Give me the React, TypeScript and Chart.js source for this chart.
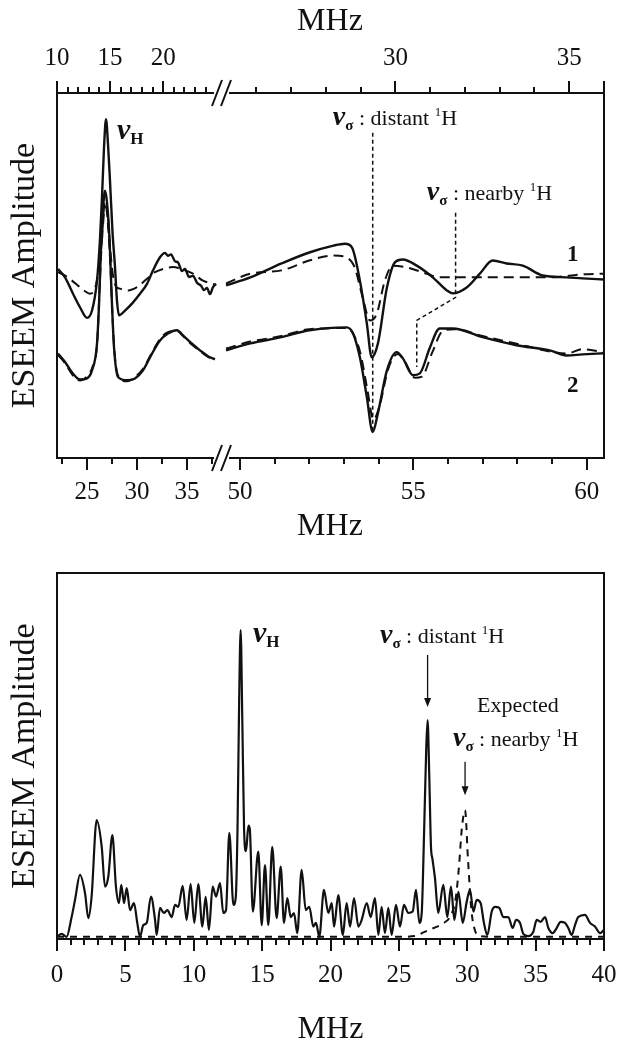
import React, { useEffect, useRef } from 'react';
import { Chart, registerables } from 'chart.js';

Chart.register(...registerables);

const SERIF = '"Liberation Serif", "Times New Roman", Times, serif';
const INK = '#111111';

// ---------- Top panel, left segment (bottom axis 22–38.3 MHz, top axis 10–25.35 MHz) ----------
const L1_SOLID_X = [22.1, 22.8, 23.6, 24.3, 25.0, 25.5, 26.0, 26.3, 26.5, 26.7, 26.9, 27.1, 27.3, 27.55, 27.8, 28.0, 28.2, 28.8, 29.5, 30.3, 31.0, 31.6, 32.3, 32.8, 33.1, 33.4, 33.8, 34.1, 34.5, 34.8, 35.2, 35.6, 36.0, 36.4, 36.7, 37.0, 37.3, 37.6, 37.9];
const L1_SOLID_Y = [51.8, 49.5, 45.0, 41.3, 38.4, 40.4, 48.6, 60.0, 71.4, 85.0, 92.8, 86.0, 75.9, 62.0, 52.3, 43.0, 39.1, 40.4, 42.3, 45.0, 47.7, 51.4, 55.0, 56.2, 55.4, 55.8, 53.9, 53.6, 51.2, 51.8, 49.6, 49.9, 48.0, 47.2, 46.0, 46.6, 44.9, 46.8, 47.7];
const L1_DASH_X = [22.1, 22.8, 23.5, 24.2, 24.7, 25.3, 25.8, 26.2, 26.5, 26.7, 26.9, 27.1, 27.3, 27.6, 27.9, 28.3, 29.1, 30.0, 31.0, 31.8, 32.6, 33.6, 34.6, 35.6, 36.6, 37.6, 37.9];
const L1_DASH_Y = [50.9, 50.0, 48.6, 47.0, 45.9, 45.0, 46.5, 52.0, 60.0, 67.0, 69.0, 66.0, 58.0, 50.0, 47.0, 46.4, 45.9, 46.8, 49.1, 50.9, 51.8, 52.3, 51.6, 50.5, 48.6, 47.7, 47.5];
const L2_SOLID_X = [22.1, 22.8, 23.6, 24.3, 25.0, 25.5, 26.0, 26.2, 26.4, 26.6, 26.8, 27.0, 27.25, 27.5, 27.7, 28.1, 29.0, 29.8, 30.6, 31.5, 32.3, 33.1, 34.0, 34.6, 35.5, 36.3, 37.1, 37.8];
const L2_SOLID_Y = [28.6, 26.3, 23.1, 21.5, 21.8, 24.0, 31.3, 42.0, 57.7, 68.0, 73.2, 70.0, 60.0, 42.0, 30.4, 22.2, 21.3, 21.8, 24.0, 28.6, 32.2, 34.1, 35.0, 33.6, 31.3, 29.5, 27.9, 27.0];
const L2_DASH_X = [22.1, 22.8, 23.6, 24.3, 25.0, 25.5, 26.0, 26.4, 26.8, 27.2, 27.7, 28.1, 29.0, 29.8, 30.6, 31.5, 32.3, 33.1, 34.0, 34.6, 35.5, 36.3, 37.1, 37.8];
const L2_DASH_Y = [28.2, 26.0, 22.6, 21.2, 22.4, 24.6, 31.0, 55.0, 70.0, 60.0, 31.0, 22.6, 21.0, 22.2, 24.4, 28.9, 32.6, 34.5, 34.8, 33.4, 31.0, 29.3, 27.7, 26.8];

// ---------- Top panel, right segment (bottom axis 49.57–60.5 MHz, top axis 25.1–36 MHz) ----------
const R1_SOLID_X = [49.6, 50.3, 51.2, 52.0, 52.7, 53.03, 53.23, 53.46, 53.66, 53.8, 53.98, 54.24, 54.47, 54.7, 55.1, 55.56, 55.97, 56.14, 56.54, 56.92, 57.29, 57.69, 58.16, 58.73, 59.42, 59.88, 60.5];
const R1_SOLID_Y = [47.3, 49.5, 53.3, 56.3, 58.2, 58.7, 57.7, 48.6, 36.9, 27.6, 31.4, 46.7, 53.6, 54.4, 52.7, 49.5, 45.9, 45.1, 46.7, 50.5, 54.1, 53.3, 52.7, 50.0, 49.5, 49.2, 48.9];
const R1_DASH_X = [49.6, 50.3, 51.2, 52.0, 52.7, 53.08, 53.31, 53.54, 53.75, 53.95, 54.18, 54.41, 54.81, 55.39, 55.76, 56.34, 57.0, 57.98, 58.93, 59.88, 60.5];
const R1_DASH_Y = [47.8, 50.5, 51.4, 54.1, 55.5, 54.9, 52.2, 44.0, 37.7, 39.6, 48.6, 52.7, 52.2, 50.5, 49.5, 49.5, 49.5, 49.5, 49.5, 50.3, 50.5];
const R2_SOLID_X = [49.6, 50.3, 51.2, 52.0, 53.08, 53.26, 53.46, 53.66, 53.83, 53.98, 54.24, 54.52, 54.7, 54.99, 55.19, 55.48, 55.76, 56.14, 57.0, 57.98, 58.93, 59.42, 59.88, 60.5];
const R2_SOLID_Y = [29.5, 31.4, 33.1, 35.0, 35.8, 34.2, 27.6, 16.7, 7.1, 12.3, 24.0, 29.0, 27.3, 22.7, 23.2, 30.3, 35.5, 35.5, 33.1, 30.9, 29.5, 28.1, 28.4, 28.7];
const R2_DASH_X = [49.6, 50.3, 51.2, 52.0, 53.08, 53.28, 53.48, 53.68, 53.85, 54.02, 54.28, 54.55, 54.75, 55.05, 55.25, 55.55, 55.85, 56.2, 57.0, 57.98, 58.93, 59.42, 59.88, 60.5];
const R2_DASH_Y = [30.0, 31.9, 33.4, 35.3, 35.6, 33.8, 28.5, 18.5, 10.5, 14.0, 24.5, 28.5, 26.5, 22.0, 22.3, 29.0, 34.8, 35.3, 33.4, 31.3, 29.2, 28.6, 29.8, 29.0];

// marker positions (bottom-axis MHz) in the top panel
const TOP_DISTANT_MHZ = 53.83;
const TOP_NEARBY_MHZ = 56.22;
const TOP_NEARBY_LINK_MHZ = 55.1;

// ---------- Bottom panel (0–40 MHz) ----------
const B_SOLID_X = [0.0, 0.34, 0.7, 1.07, 1.32, 1.68, 2.05, 2.29, 2.53, 2.9, 3.27, 3.51, 3.75, 4.05, 4.31, 4.53, 4.7, 4.9, 5.1, 5.34, 5.63, 5.87, 6.07, 6.31, 6.56, 6.87, 7.17, 7.29, 7.53, 7.82, 8.07, 8.39, 8.63, 8.87, 9.19, 9.48, 9.77, 10.04, 10.33, 10.63, 10.87, 11.11, 11.38, 11.63, 11.92, 12.16, 12.36, 12.6, 12.9, 13.07, 13.2, 13.32, 13.43, 13.55, 13.68, 13.82, 14.0, 14.1, 14.32, 14.72, 14.97, 15.21, 15.45, 15.74, 16.06, 16.36, 16.6, 16.84, 17.09, 17.33, 17.57, 17.89, 18.19, 18.45, 18.74, 18.94, 19.18, 19.52, 19.84, 20.09, 20.26, 20.57, 20.9, 21.18, 21.43, 21.72, 22.04, 22.28, 22.65, 22.94, 23.25, 23.5, 23.74, 23.98, 24.23, 24.47, 24.79, 25.08, 25.37, 25.69, 26.01, 26.25, 26.5, 26.67, 26.85, 27.0, 27.1, 27.22, 27.35, 27.45, 27.64, 27.88, 28.25, 28.54, 28.81, 29.06, 29.35, 29.67, 29.96, 30.2, 30.45, 30.69, 30.98, 31.22, 31.47, 31.79, 32.03, 32.34, 32.64, 33.0, 33.32, 33.57, 33.86, 34.1, 34.47, 34.83, 35.08, 35.37, 35.69, 35.93, 36.25, 36.54, 36.83, 37.15, 37.39, 37.64, 37.88, 38.12, 38.61, 38.98, 39.34, 39.71, 40.0];
const B_SOLID_Y = [0.6, 1.4, 0.6, 6.0, 10.7, 17.5, 12.5, 5.7, 11.6, 32.5, 25.2, 14.3, 17.0, 28.4, 14.3, 9.8, 14.8, 9.8, 13.9, 7.9, 9.8, 4.4, 0.6, 3.8, 4.4, 11.6, 5.2, 1.1, 8.5, 7.1, 7.9, 6.0, 9.3, 8.8, 14.5, 5.2, 15.0, 4.4, 15.0, 3.4, 11.5, 2.5, 14.3, 11.6, 15.3, 7.1, 7.9, 29.0, 9.3, 11.3, 30.0, 65.0, 84.4, 60.0, 30.0, 24.0, 31.0, 30.0, 7.5, 23.9, 3.8, 20.2, 3.8, 25.2, 5.7, 19.8, 4.4, 11.2, 6.0, 7.1, 1.6, 18.9, 7.9, 8.8, 3.4, 4.4, 0.6, 13.4, 7.1, 9.8, 3.4, 12.0, 1.1, 9.8, 3.4, 11.2, 3.4, 5.2, 9.8, 6.0, 11.2, 1.1, 8.8, 1.6, 8.5, 1.1, 9.3, 3.4, 9.3, 7.1, 7.5, 13.4, 4.4, 7.1, 30.0, 52.0, 59.8, 45.0, 25.0, 22.0, 16.6, 7.1, 14.8, 6.0, 14.3, 5.2, 12.9, 4.4, 10.2, 13.4, 7.5, 10.7, 9.8, 4.4, 1.1, 7.5, 8.8, 8.5, 6.0, 6.0, 3.0, 5.2, 4.4, 1.4, 0.8, 2.0, 5.2, 4.7, 6.0, 3.0, 1.6, 3.0, 4.7, 4.4, 3.0, 1.1, 3.8, 6.0, 6.6, 4.4, 3.4, 1.6, 2.5];
const B_DASH_X = [0, 5, 10, 15, 20, 25, 26.2, 26.8, 27.3, 27.8, 28.3, 28.8, 29.15, 29.4, 29.6, 29.84, 30.05, 30.3, 30.55, 30.9, 32, 36, 40];
const B_DASH_Y = [0.6, 0.6, 0.6, 0.6, 0.6, 0.6, 0.8, 1.8, 2.6, 3.4, 4.4, 6.5, 11.0, 20.0, 30.0, 35.2, 22.0, 8.0, 2.5, 0.8, 0.6, 0.6, 0.6];
const B_DISTANT_MHZ = 27.1;
const B_NEARBY_MHZ = 29.84;

// ---------- Axis ticks ----------
const TOP_A_MAJOR = [10, 15, 20];
const TOP_A_MINOR = [11, 12, 13, 14, 16, 17, 18, 19, 21, 22, 23, 24];
const BOT_A_MAJOR = [25, 30, 35];
const BOT_A_MINOR = [22.5, 27.5, 32.5, 37.5];
const TOP_B_MAJOR = [30, 35, 36];
const TOP_B_MINOR = [26, 27, 28, 29, 31, 32, 33, 34];
const BOT_B_MAJOR = [50, 55, 60];
const BOT_B_MINOR = [51, 52, 53, 54, 56, 57, 58, 59];
const C_MAJOR = [0, 5, 10, 15, 20, 25, 30, 35, 40];
const C_MINOR = [1, 2, 3, 4, 6, 7, 8, 9, 11, 12, 13, 14, 16, 17, 18, 19, 21, 22, 23, 24, 26, 27, 28, 29, 31, 32, 33, 34, 36, 37, 38, 39];

const TOP_A_LABELS = [10, 15, 20];
const BOT_A_LABELS = [25, 30, 35];
const TOP_B_LABELS = [30, 35];
const BOT_B_LABELS = [50, 55, 60];
const C_LABELS = [0, 5, 10, 15, 20, 25, 30, 35, 40];

const pts = (xs: number[], ys: number[]) => xs.map((x, i) => ({ x, y: ys[i] }));

const line = (xs: number[], ys: number[], dash: number[], width: number) => ({
  data: pts(xs, ys),
  borderColor: INK,
  borderWidth: width,
  borderDash: dash,
  pointRadius: 0,
  fill: false,
  cubicInterpolationMode: 'monotone',
  xAxisID: 'x',
  yAxisID: 'y',
});

type Part = { t: string; size: number; weight?: string; style?: string; dy?: number };
function drawRich(ctx: CanvasRenderingContext2D, x: number, y: number, parts: Part[]) {
  let cx = x;
  ctx.textAlign = 'left';
  ctx.textBaseline = 'alphabetic';
  ctx.fillStyle = INK;
  for (const p of parts) {
    ctx.font = `${p.style || 'normal'} ${p.weight || 'normal'} ${p.size}px ${SERIF}`;
    ctx.fillText(p.t, cx, y + (p.dy || 0));
    cx += ctx.measureText(p.t).width;
  }
}
const sigmaLabel = (word: string): Part[] => [
  { t: 'ν', size: 28, weight: 'bold', style: 'italic' },
  { t: 'σ', size: 15, weight: 'bold', dy: 5 },
  { t: ' : ' + word + ' ', size: 22 },
  { t: '1', size: 13, dy: -9 },
  { t: 'H', size: 22 },
];
const nuH: Part[] = [
  { t: 'ν', size: 30, weight: 'bold', style: 'italic' },
  { t: 'H', size: 17, weight: 'bold', dy: 5 },
];

function drawTicks(ctx: CanvasRenderingContext2D, chart: any, id: string, side: 'top' | 'bottom', major: number[], minor: number[]) {
  const s = chart.scales[id];
  const a = chart.chartArea;
  const y0 = side === 'top' ? a.top : a.bottom;
  const dir = side === 'top' ? -1 : 1;
  ctx.beginPath();
  for (const v of major) {
    const x = Math.round(s.getPixelForValue(v));
    ctx.moveTo(x, y0);
    ctx.lineTo(x, y0 + dir * 12);
  }
  for (const v of minor) {
    const x = Math.round(s.getPixelForValue(v));
    ctx.moveTo(x, y0);
    ctx.lineTo(x, y0 + dir * 6);
  }
  ctx.stroke();
}

function arrow(ctx: CanvasRenderingContext2D, x: number, y1: number, y2: number) {
  ctx.beginPath();
  ctx.moveTo(x, y1);
  ctx.lineTo(x, y2 - 6);
  ctx.stroke();
  ctx.beginPath();
  ctx.moveTo(x - 3.5, y2 - 9);
  ctx.lineTo(x + 3.5, y2 - 9);
  ctx.lineTo(x, y2);
  ctx.closePath();
  ctx.fill();
}

const tickFont = { family: SERIF, size: 25, lineHeight: 1.2 };

const xScale = (position: string, min: number, max: number, labels: number[], height: number, padding: number) => ({
  type: 'linear',
  position,
  min,
  max,
  afterBuildTicks: (s: any) => {
    s.ticks = labels.map((v) => ({ value: v }));
  },
  afterFit: (s: any) => {
    s.height = height;
    s.paddingLeft = 0;
    s.paddingRight = 0;
  },
  grid: { display: false, drawTicks: false },
  border: { display: false },
  ticks: { color: INK, font: tickFont, padding, maxRotation: 0, minRotation: 0, autoSkip: false },
});

const yTitled = (width: number) => ({
  type: 'linear',
  position: 'left',
  min: 0,
  max: 100,
  grid: { display: false, drawTicks: false },
  border: { display: false },
  ticks: { display: false },
  title: {
    display: true,
    text: 'ESEEM Amplitude',
    color: INK,
    font: { family: SERIF, size: 34, lineHeight: 1.2 },
    padding: { top: 5, bottom: 0 },
  },
  afterFit: (s: any) => {
    s.width = width;
    s.paddingTop = 0;
    s.paddingBottom = 0;
  },
});

const common = {
  animation: false,
  responsive: false,
  maintainAspectRatio: false,
  devicePixelRatio: 1,
  events: [],
  plugins: { legend: { display: false }, tooltip: { enabled: false } },
};

export default function App() {
  const refA = useRef<HTMLCanvasElement>(null);
  const refB = useRef<HTMLCanvasElement>(null);
  const refC = useRef<HTMLCanvasElement>(null);

  useEffect(() => {
    const dashTop = [10, 6];

    const chartA = new Chart(refA.current as HTMLCanvasElement, {
      type: 'line',
      data: {
        datasets: [
          line(L1_SOLID_X, L1_SOLID_Y, [], 2.4),
          line(L1_DASH_X, L1_DASH_Y, dashTop, 2),
          line(L2_SOLID_X, L2_SOLID_Y, [], 2.4),
          line(L2_DASH_X, L2_DASH_Y, dashTop, 2),
        ] as any,
      },
      options: {
        ...common,
        layout: { padding: { left: 0, right: 2, top: 0, bottom: 0 } },
        scales: {
          x: xScale('bottom', 22, 38.3, BOT_A_LABELS, 87, 19),
          x2: xScale('top', 10, 25.35, TOP_A_LABELS, 93, 20),
          y: yTitled(57),
        },
      } as any,
      plugins: [
        {
          id: 'frameA',
          afterDraw(chart: any) {
            const { ctx, chartArea: a, scales } = chart;
            ctx.save();
            ctx.strokeStyle = INK;
            ctx.fillStyle = INK;
            ctx.lineWidth = 2;
            ctx.beginPath();
            ctx.moveTo(214, a.top);
            ctx.lineTo(a.left, a.top);
            ctx.lineTo(a.left, a.bottom);
            ctx.lineTo(214, a.bottom);
            ctx.stroke();
            drawTicks(ctx, chart, 'x', 'bottom', BOT_A_MAJOR, BOT_A_MINOR);
            drawTicks(ctx, chart, 'x2', 'top', TOP_A_MAJOR, TOP_A_MINOR);
            drawRich(ctx, scales.x.getPixelForValue(28.0), scales.y.getPixelForValue(87.5), nuH);
            ctx.restore();
          },
        },
      ],
    });

    const chartB = new Chart(refB.current as HTMLCanvasElement, {
      type: 'line',
      data: {
        datasets: [
          line(R1_SOLID_X, R1_SOLID_Y, [], 2.4),
          line(R1_DASH_X, R1_DASH_Y, dashTop, 2),
          line(R2_SOLID_X, R2_SOLID_Y, [], 2.4),
          line(R2_DASH_X, R2_DASH_Y, dashTop, 2),
        ] as any,
      },
      options: {
        ...common,
        layout: { padding: { left: 25, right: 25, top: 0, bottom: 0 } },
        scales: {
          x: xScale('bottom', 49.57, 60.5, BOT_B_LABELS, 87, 19),
          x2: xScale('top', 25.1, 36.0, TOP_B_LABELS, 93, 20),
          y: { type: 'linear', display: false, min: 0, max: 100 },
        },
      } as any,
      plugins: [
        {
          id: 'frameB',
          afterDraw(chart: any) {
            const { ctx, chartArea: a, scales } = chart;
            const { x, y } = scales;
            ctx.save();
            ctx.strokeStyle = INK;
            ctx.fillStyle = INK;
            ctx.lineWidth = 2;
            ctx.beginPath();
            ctx.moveTo(29, a.top);
            ctx.lineTo(a.right, a.top);
            ctx.lineTo(a.right, a.bottom);
            ctx.lineTo(29, a.bottom);
            ctx.stroke();
            drawTicks(ctx, chart, 'x', 'bottom', BOT_B_MAJOR, BOT_B_MINOR);
            drawTicks(ctx, chart, 'x2', 'top', TOP_B_MAJOR, TOP_B_MINOR);
            // axis breaks
            ctx.lineWidth = 2;
            ctx.beginPath();
            for (const yy of [a.top, a.bottom]) {
              for (const cx of [17, 26]) {
                ctx.moveTo(cx - 5, yy + 13);
                ctx.lineTo(cx + 5, yy - 13);
              }
            }
            ctx.stroke();
            // axis titles for the top panel
            ctx.font = `32px ${SERIF}`;
            ctx.textAlign = 'center';
            ctx.textBaseline = 'middle';
            ctx.fillText('MHz', 330 - 200, 22);
            ctx.fillText('MHz', 330 - 200, 527);
            // marker lines
            ctx.lineWidth = 1.5;
            ctx.setLineDash([4, 3]);
            ctx.beginPath();
            ctx.moveTo(x.getPixelForValue(TOP_DISTANT_MHZ), y.getPixelForValue(89.1));
            ctx.lineTo(x.getPixelForValue(TOP_DISTANT_MHZ), y.getPixelForValue(7.1));
            ctx.moveTo(x.getPixelForValue(TOP_NEARBY_MHZ), y.getPixelForValue(67.2));
            ctx.lineTo(x.getPixelForValue(TOP_NEARBY_MHZ), y.getPixelForValue(44.0));
            ctx.lineTo(x.getPixelForValue(TOP_NEARBY_LINK_MHZ), y.getPixelForValue(37.7));
            ctx.lineTo(x.getPixelForValue(TOP_NEARBY_LINK_MHZ), y.getPixelForValue(24.9));
            ctx.stroke();
            ctx.setLineDash([]);
            drawRich(ctx, x.getPixelForValue(52.68), y.getPixelForValue(91.3), sigmaLabel('distant'));
            drawRich(ctx, x.getPixelForValue(55.39), y.getPixelForValue(70.8), sigmaLabel('nearby'));
            ctx.font = `bold 23px ${SERIF}`;
            ctx.textAlign = 'center';
            ctx.textBaseline = 'alphabetic';
            ctx.fillText('1', x.getPixelForValue(59.6), y.getPixelForValue(54.1));
            ctx.fillText('2', x.getPixelForValue(59.6), y.getPixelForValue(18.0));
            ctx.restore();
          },
        },
      ],
    });

    const chartC = new Chart(refC.current as HTMLCanvasElement, {
      type: 'line',
      data: {
        datasets: [
          line(B_SOLID_X, B_SOLID_Y, [], 2.2),
          line(B_DASH_X, B_DASH_Y, [7, 6], 2),
        ] as any,
      },
      options: {
        ...common,
        layout: { padding: { left: 0, right: 25, top: 28, bottom: 0 } },
        scales: {
          x: {
            ...xScale('bottom', 0, 40, C_LABELS, 111, 21),
            title: {
              display: true,
              text: 'MHz',
              color: INK,
              font: { family: SERIF, size: 32, lineHeight: 1.2 },
              padding: { top: 0, bottom: 1 },
            },
          },
          y: yTitled(57),
        },
      } as any,
      plugins: [
        {
          id: 'frameC',
          afterDraw(chart: any) {
            const { ctx, chartArea: a, scales } = chart;
            const { x, y } = scales;
            ctx.save();
            ctx.strokeStyle = INK;
            ctx.fillStyle = INK;
            ctx.lineWidth = 2;
            ctx.strokeRect(a.left, a.top, a.right - a.left, a.bottom - a.top);
            drawTicks(ctx, chart, 'x', 'bottom', C_MAJOR, C_MINOR);
            ctx.lineWidth = 1.3;
            arrow(ctx, x.getPixelForValue(B_DISTANT_MHZ), y.getPixelForValue(77.6), y.getPixelForValue(63.4));
            arrow(ctx, x.getPixelForValue(B_NEARBY_MHZ), y.getPixelForValue(48.4), y.getPixelForValue(39.3));
            drawRich(ctx, x.getPixelForValue(14.33), y.getPixelForValue(81.1), nuH);
            drawRich(ctx, x.getPixelForValue(23.62), y.getPixelForValue(80.9), sigmaLabel('distant'));
            drawRich(ctx, x.getPixelForValue(30.71), y.getPixelForValue(62.0), [{ t: 'Expected', size: 22 }]);
            drawRich(ctx, x.getPixelForValue(28.96), y.getPixelForValue(52.7), sigmaLabel('nearby'));
            ctx.restore();
          },
        },
      ],
    });

    return () => {
      chartA.destroy();
      chartB.destroy();
      chartC.destroy();
    };
  }, []);

  return (
    <div style={{ position: 'absolute', left: 0, top: 0, width: 629, height: 1050, background: '#ffffff' }}>
      <canvas ref={refA} width={222} height={545} style={{ position: 'absolute', left: 0, top: 0, width: 222, height: 545 }} />
      <canvas ref={refB} width={429} height={545} style={{ position: 'absolute', left: 200, top: 0, width: 429, height: 545 }} />
      <canvas ref={refC} width={629} height={505} style={{ position: 'absolute', left: 0, top: 545, width: 629, height: 505 }} />
    </div>
  );
}
